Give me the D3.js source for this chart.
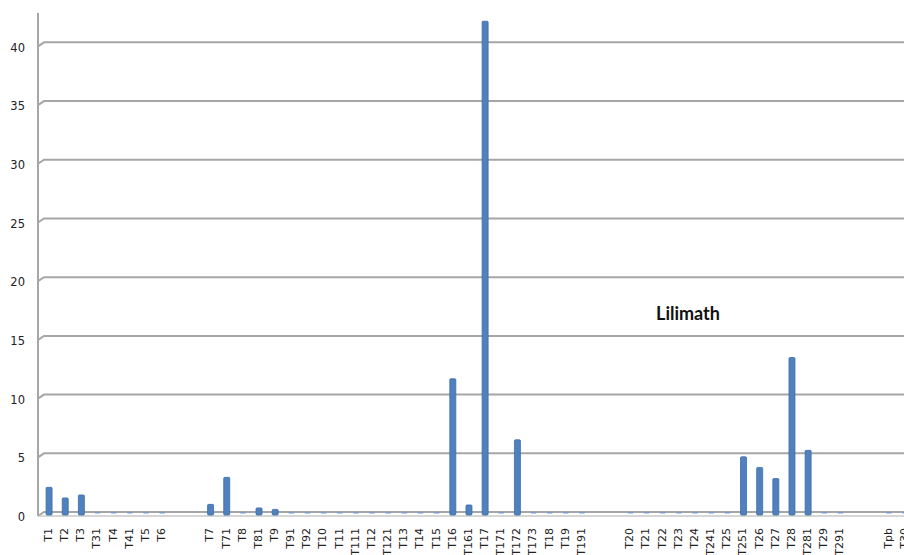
<!DOCTYPE html>
<html>
<head>
<meta charset="utf-8">
<script src="https://cdn.jsdelivr.net/npm/d3@7"></script>
<style>
  html, body { margin: 0; padding: 0; background: #ffffff; }
  svg { display: block; }
</style>
</head>
<body>
<svg id="chart" width="904" height="555"></svg>
<script>
// ---- data ----
const categories = [
  "T1","T2","T3","T31","T4","T41","T5","T6","_g1","_g2",
  "T7","T71","T8","T81","T9","T91","T92","T10","T11","T111","T12","T121","T13","T14","T15",
  "T16","T161","T17","T171","T172","T173","T18","T19","T191","_g3","_g4",
  "T20","T21","T22","T23","T24","T241","T25","T251","T26","T27","T28","T281","T29","T291","_g5","_g6",
  "Tpb","T30"
];
const values = [
  2.1, 1.2, 1.45, 0, 0, 0, 0, 0, null, null,
  0.65, 2.95, 0, 0.35, 0.22, 0, 0, 0, 0, 0, 0, 0, 0, 0, 0,
  11.35, 0.6, 41.8, 0, 6.15, 0, 0, 0, 0, null, null,
  0, 0, 0, 0, 0, 0, 0, 4.7, 3.8, 2.85, 13.15, 5.25, 0, 0, null, null,
  0, 0
];
const yTicks = [0, 5, 10, 15, 20, 25, 30, 35, 40];
const title = "Lilimath";

// ---- chart ----
const svg = d3.select("#chart");
const floorY = 515;

const x = d3.scaleBand().domain(categories).range([40, 40 + categories.length * 16.15]);
const y = d3.scaleLinear().domain([0, 42.5]).range([512, 13]);

// gridlines with 3D slant at the left wall
const grid = svg.append("g");
yTicks.forEach(t => {
  const gy = y(t);
  grid.append("path")
    .attr("d", `M38,${gy + 4}L44,${gy}L910,${gy}`)
    .attr("fill", "none")
    .attr("stroke", "#a6a6a6")
    .attr("stroke-width", 2);
});
// floor front edge
grid.append("line")
  .attr("x1", 38).attr("x2", 910)
  .attr("y1", floorY + 1).attr("y2", floorY + 1)
  .attr("stroke", "#c8c8c8").attr("stroke-width", 1.5);

// vertical axis (left wall edge)
svg.append("line")
  .attr("x1", 38).attr("x2", 38)
  .attr("y1", 13).attr("y2", floorY + 1)
  .attr("stroke", "#a6a6a6").attr("stroke-width", 2);

// y labels
const yAxis = d3.axisLeft(y).tickValues(yTicks).tickSize(0).tickPadding(0);
const yg = svg.append("g").attr("transform", "translate(25,5)").call(yAxis);
yg.select(".domain").remove();
yg.selectAll("text")
  .attr("font-family", "DejaVu Sans, Verdana, sans-serif")
  .attr("font-size", 11.5)
  .attr("fill", "#222");

// bars
const bw = 6;
const data = categories.map((c, i) => ({ c, v: values[i] })).filter(d => d.v !== null);
svg.append("g").selectAll("rect")
  .data(data)
  .join("rect")
  .attr("x", d => x(d.c) + x.bandwidth() / 2 - bw / 2 + 1)
  .attr("width", bw)
  .attr("y", d => d.v > 0 ? y(d.v) : floorY - 3)
  .attr("height", d => d.v > 0 ? floorY - y(d.v) : 1.5)
  .attr("rx", 1)
  .attr("fill", d => d.v > 0 ? "#4f81bd" : "#7a9cc8")
  .attr("stroke", d => d.v > 0 ? "#3d6ca8" : "none")
  .attr("stroke-width", 0.8);

// x labels
const xAxis = d3.axisBottom(x).tickSize(0).tickPadding(0)
  .tickFormat(d => d.startsWith("_") ? "" : d);
const xg = svg.append("g").attr("transform", "translate(0,528)").call(xAxis);
xg.select(".domain").remove();
xg.selectAll("text")
  .attr("font-family", "DejaVu Sans, Verdana, sans-serif")
  .attr("font-size", 11)
  .attr("fill", "#222")
  .attr("transform", "rotate(-90)")
  .attr("text-anchor", "end")
  .attr("x", 0)
  .attr("y", 0)
  .attr("dy", "0.35em")
  .attr("dx", 0);

// title
svg.append("text")
  .attr("x", 688).attr("y", 320)
  .attr("text-anchor", "middle")
  .attr("font-family", "Lato, 'Open Sans', sans-serif")
  .attr("font-weight", "bold")
  .attr("font-size", 18)
  .attr("fill", "#111")
  .text(title);
</script>
</body>
</html>
